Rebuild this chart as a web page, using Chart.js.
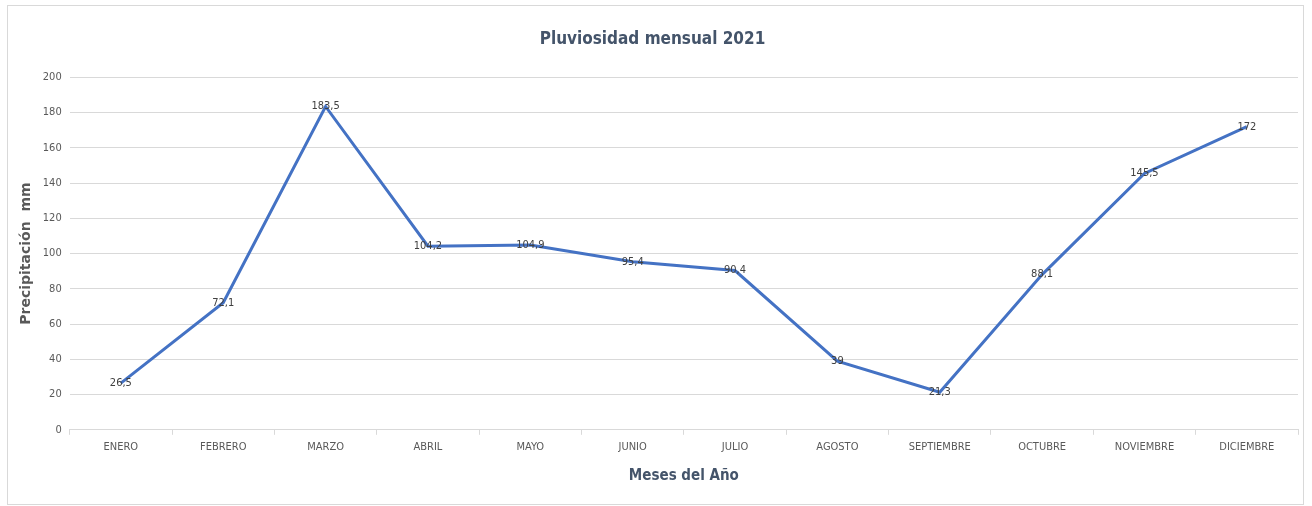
<!DOCTYPE html>
<html>
<head>
<meta charset="utf-8">
<script src="https://cdn.jsdelivr.net/npm/chart.js@4.4.0/dist/chart.umd.min.js"></script>
<style>
  body { margin: 0; background: #fff; }
  #wrap { position: relative; width: 1312px; height: 506px; }
  #frame { position: absolute; left: 7px; top: 5px; width: 1295px; height: 498px; border: 1px solid #d9d9d9; pointer-events: none; }
</style>
</head>
<body>
<div id="wrap">
  <canvas id="rainChart" width="1312" height="506"></canvas>
  <div id="frame"></div>
</div>
<script>
const months = ['ENERO', 'FEBRERO', 'MARZO', 'ABRIL', 'MAYO', 'JUNIO', 'JULIO',
    'AGOSTO', 'SEPTIEMBRE', 'OCTUBRE', 'NOVIEMBRE', 'DICIEMBRE'];
const rainfall = [26.5, 72.1, 183.5, 104.2, 104.9, 95.4, 90.4, 39, 21.3, 88.1, 145.5, 172];
const yTicks = [0, 20, 40, 60, 80, 100, 120, 140, 160, 180, 200];

const narrow = "'Liberation Sans Narrow', 'DejaVu Sans Condensed', sans-serif";

// writes each value on its point, Spanish decimal comma
const pointLabels = {
    id: 'pointLabels',
    afterDatasetsDraw(chart) {
        const ctx = chart.ctx;
        const meta = chart.getDatasetMeta(0);
        ctx.save();
        ctx.font = '11px ' + narrow;
        ctx.fillStyle = '#404040';
        ctx.textAlign = 'center';
        ctx.textBaseline = 'middle';
        meta.data.forEach((pt, i) => {
            ctx.fillText(String(rainfall[i]).replace('.', ','), pt.x, pt.y);
        });
        ctx.restore();
    }
};

const ctx = document.getElementById('rainChart').getContext('2d');
const chart = new Chart(ctx, {
    type: 'line',
    data: {
        labels: months,
        datasets: [{
            label: 'Precipitación',
            data: rainfall,
            borderColor: '#4472C4',
            borderWidth: 3,
            pointRadius: 0,
            tension: 0
        }]
    },
    options: {
        responsive: false,
        animation: false,
        layout: { padding: { left: 7, right: 14, top: 0, bottom: 0 } },
        plugins: {
            legend: { display: false },
            tooltip: { enabled: false },
            title: {
                display: true,
                text: 'Pluviosidad mensual 2021',
                color: '#44546A',
                font: { family: narrow, size: 17, weight: 'bold' },
                padding: { top: 29, bottom: 28 }
            }
        },
        scales: {
            x: {
                offset: true,
                grid: {
                    offset: true,
                    drawOnChartArea: false,
                    drawTicks: true,
                    tickLength: 5,
                    color: '#d9d9d9'
                },
                border: { color: '#d9d9d9' },
                ticks: {
                    color: '#595959',
                    font: { family: narrow, size: 11 },
                    maxRotation: 0,
                    autoSkip: false,
                    padding: 6
                },
                title: {
                    display: true,
                    text: 'Meses del Año',
                    color: '#44546A',
                    font: { family: narrow, size: 15, weight: 'bold' },
                    padding: { top: 7, bottom: 21 }
                }
            },
            y: {
                min: 0,
                max: 200,
                afterBuildTicks: s => { s.ticks = yTicks.map(v => ({ value: v })); },
                grid: { color: '#d9d9d9', drawTicks: false },
                border: { display: false },
                ticks: {
                    color: '#595959',
                    font: { family: narrow, size: 11 },
                    padding: 8
                },
                title: {
                    display: true,
                    text: 'Precipitación  mm',
                    color: '#595959',
                    font: { family: 'DejaVu Sans', size: 14, weight: 'bold' },
                    padding: { top: 11, bottom: 0 }
                }
            }
        }
    },
    plugins: [pointLabels]
});
</script>
</body>
</html>
